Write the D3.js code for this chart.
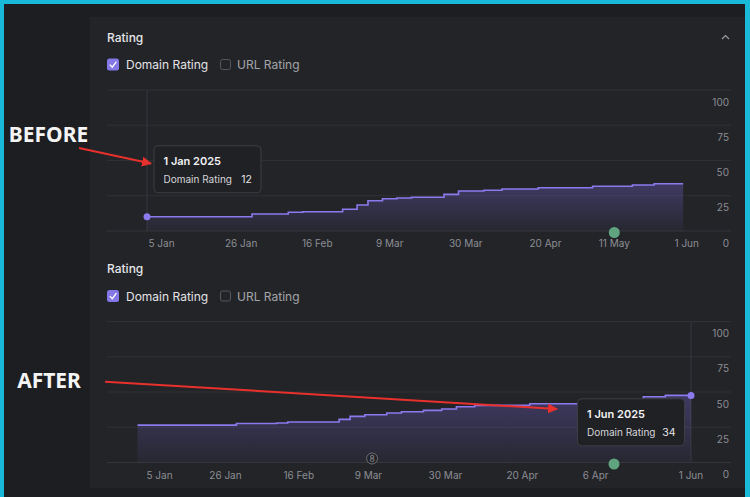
<!DOCTYPE html>
<html><head><meta charset="utf-8">
<script src="https://cdn.jsdelivr.net/npm/d3@7"></script>
<style>
html,body{margin:0;padding:0;background:#1d1e21;overflow:hidden}
svg{display:block;font-family:Inter,"Noto Sans",sans-serif}
</style>
</head><body>
<svg id="c" width="750" height="497"></svg>
<script>
// ---------- DATA ----------
const beforeDates  = ["2025-01-01","2025-01-30","2025-02-09","2025-02-13","2025-02-24","2025-02-28","2025-03-03","2025-03-07","2025-03-11","2025-03-15","2025-03-24","2025-03-28","2025-04-04","2025-04-09","2025-04-19","2025-05-04","2025-05-15","2025-05-21","2025-05-29"];
const beforeValues = [10.1, 12.1, 13.3, 13.7, 15.4, 18.4, 21.5, 22.9, 23.4, 23.9, 26.0, 28.4, 28.9, 29.8, 30.7, 31.7, 32.6, 33.5, 33.5];

const afterDates  = ["2025-01-01","2025-01-28","2025-02-08","2025-02-11","2025-02-25","2025-02-28","2025-03-04","2025-03-10","2025-03-14","2025-03-20","2025-03-25","2025-03-29","2025-04-03","2025-04-18","2025-05-08","2025-05-19","2025-05-25","2025-06-01"];
const afterValues = [26.5, 27.7, 28.0, 28.7, 30.6, 32.7, 33.9, 35.1, 36.0, 37.0, 37.9, 39.5, 40.5, 41.7, 43.6, 46.6, 47.6, 47.6];

const yTickValues = [0, 25, 50, 75, 100];

const beforeTickDates  = ["2025-01-05","2025-01-27","2025-02-17","2025-03-09","2025-03-30","2025-04-21","2025-05-10","2025-05-30"];
const beforeTickLabels = ["5 Jan","26 Jan","16 Feb","9 Mar","30 Mar","20 Apr","11 May","1 Jun"];
const afterTickDates   = ["2025-01-07","2025-01-25","2025-02-14","2025-03-05","2025-03-26","2025-04-16","2025-05-06","2025-06-01"];
const afterTickLabels  = ["5 Jan","26 Jan","16 Feb","9 Mar","30 Mar","20 Apr","6 Apr","1 Jun"];

const tooltipTitles = ["1 Jan 2025", "1 Jun 2025"];
const tooltipSeries = ["Domain Rating", "Domain Rating"];
const tooltipValues = [12, 34];

const seriesLabels = ["Domain Rating", "URL Rating"];
const panelTitle = "Rating";
const beforeAnnotationDates = ["2025-05-10"];
const afterAnnotationDates  = ["2025-05-11"];
const afterCountMarkerDates = ["2025-03-06"];
const afterCountMarkerLabels = ["8"];
const stageLabels = ["BEFORE", "AFTER"];

// ---------- DRAW ----------
const parse = d3.timeParse("%Y-%m-%d");
const svg = d3.select("#c");

svg.append("rect").attr("x",0).attr("y",0).attr("width",750).attr("height",497).attr("fill","#1d1e21");
svg.append("rect").attr("x",90).attr("y",17).attr("width",655).attr("height",471).attr("fill","#232428");
svg.append("rect").attr("x",0).attr("y",0).attr("width",4).attr("height",497).attr("fill","#19b9d9");
svg.append("rect").attr("x",0).attr("y",0).attr("width",750).attr("height",4).attr("fill","#19b9d9");
svg.append("rect").attr("x",745).attr("y",0).attr("width",5).attr("height",497).attr("fill","#19b9d9");

const defs = svg.append("defs");
defs.append("marker").attr("id","arrow").attr("viewBox","0 0 10 10")
  .attr("refX",9).attr("refY",5).attr("markerWidth",5).attr("markerHeight",5)
  .attr("orient","auto-start-reverse").attr("markerUnits","strokeWidth")
  .append("path").attr("d","M0,0 L10,5 L0,10 z").attr("fill","#e8302c");

const charts = [
  {dy:0, xr:[147,694], dates:beforeDates, values:beforeValues, ticks:beforeTickDates, labels:beforeTickLabels,
   cursor:"first", tipSide:"right", idx:0, ann:beforeAnnotationDates, counts:[], countLabels:[], chevron:true},
  {dy:231.5, xr:[137.5,691], dates:afterDates, values:afterValues, ticks:afterTickDates, labels:afterTickLabels,
   cursor:"last", tipSide:"left", idx:1, ann:afterAnnotationDates, counts:afterCountMarkerDates, countLabels:afterCountMarkerLabels, chevron:false}
];

charts.forEach(c => {
  const g = svg.append("g").attr("transform",`translate(0,${c.dy})`);
  const x = d3.scaleTime().domain([parse("2025-01-01"), parse("2025-06-01")]).range(c.xr);
  const y = d3.scaleLinear().domain([0,100]).range([231,90]);
  const data = c.dates.map((d,i)=>({date:parse(d), value:c.values[i]}));

  g.append("text").attr("x",107).attr("y",41.5).attr("fill","#e6e6e9").attr("font-size",12).attr("font-weight",500).text(panelTitle);
  if (c.chevron) {
    g.append("path").attr("d","M722,39 L725.5,35.5 L729,39").attr("fill","none").attr("stroke","#9a9ba0").attr("stroke-width",1.2);
  }
  g.append("rect").attr("x",107).attr("y",58.5).attr("width",12).attr("height",12).attr("rx",2.5).attr("fill","#8577e6");
  g.append("path").attr("d","M109.8,64.6 L112.3,67.2 L116.4,61.6").attr("fill","none").attr("stroke","#fff").attr("stroke-width",1.3);
  g.append("text").attr("x",126).attr("y",69).attr("fill","#e2e2e5").attr("font-size",12).text(seriesLabels[0]);
  g.append("rect").attr("x",220.5).attr("y",59.5).attr("width",10).attr("height",10).attr("rx",2).attr("fill","none").attr("stroke","#55575d").attr("stroke-width",1);
  g.append("text").attr("x",237).attr("y",69).attr("fill","#a3a4a9").attr("font-size",12).text(seriesLabels[1]);

  g.append("g").selectAll("line").data(yTickValues).join("line")
    .attr("x1",107).attr("x2",731).attr("y1",d=>y(d)).attr("y2",d=>y(d))
    .attr("stroke",d=>d===0?"#34353a":"#2f3035").attr("stroke-width",1);
  g.append("g").selectAll("text").data(yTickValues).join("text")
    .attr("x",729).attr("y",d=>y(d)+15.5).attr("text-anchor","end")
    .attr("fill","#8c8e94").attr("font-size",10).text(d=>d);

  g.append("g").selectAll("text").data(c.ticks).join("text")
    .attr("x",d=>x(parse(d))).attr("y",247).attr("text-anchor","middle")
    .attr("fill","#8c8e94").attr("font-size",10).text((d,i)=>c.labels[i]);

  const cur = c.cursor==="first" ? data[0] : data[data.length-1];
  g.append("line").attr("x1",x(cur.date)).attr("x2",x(cur.date)).attr("y1",y(100)).attr("y2",y(0))
    .attr("stroke","#36373c").attr("stroke-width",1);

  const gid = "grad"+c.idx;
  const gr = defs.append("linearGradient").attr("id",gid).attr("gradientUnits","userSpaceOnUse")
    .attr("x1",0).attr("x2",0).attr("y1",y(d3.max(c.values))).attr("y2",y(0));
  gr.append("stop").attr("offset",0).attr("stop-color","rgb(124,104,222)").attr("stop-opacity",0.32);
  gr.append("stop").attr("offset",1).attr("stop-color","rgb(124,104,222)").attr("stop-opacity",0.05);

  const area = d3.area().curve(d3.curveStepAfter).x(d=>x(d.date)).y0(y(0)).y1(d=>y(d.value));
  const line = d3.line().curve(d3.curveStepAfter).x(d=>x(d.date)).y(d=>y(d.value));
  g.append("path").datum(data).attr("d",area).attr("fill",`url(#${gid})`);
  g.append("path").datum(data).attr("d",line).attr("fill","none").attr("stroke","#8b79ee").attr("stroke-width",1.6);

  g.append("g").selectAll("circle").data(c.ann).join("circle")
    .attr("cx",d=>x(parse(d))).attr("cy",y(0)+1.5).attr("r",5.5).attr("fill","#5fa47f");
  c.counts.forEach((d,i)=>{
    g.append("circle").attr("cx",x(parse(d))).attr("cy",y(0)-4).attr("r",5.5)
      .attr("fill","#232428").attr("stroke","#6d6f75").attr("stroke-width",1);
    g.append("text").attr("x",x(parse(d))).attr("y",y(0)-0.8).attr("text-anchor","middle")
      .attr("fill","#8c8e94").attr("font-size",8.5).text(c.countLabels[i]);
  });

  const tw = 107, th = 47;
  const tx = c.tipSide==="right" ? x(cur.date)+6.5 : x(cur.date)-7-tw;
  const ty = c.tipSide==="right" ? 145.3 : 398.3 - c.dy;
  const tip = g.append("g").attr("transform",`translate(${tx},${ty})`);
  tip.append("rect").attr("x",0.5).attr("y",0.5).attr("width",tw).attr("height",th).attr("rx",4)
    .attr("fill","#202124").attr("stroke","#3d3e43").attr("stroke-width",1);
  tip.append("text").attr("x",10).attr("y",19.5).attr("fill","#f2f2f4").attr("font-size",11).attr("font-weight",600).text(tooltipTitles[c.idx]);
  tip.append("text").attr("x",10).attr("y",37.5).attr("fill","#d6d6da").attr("font-size",10).text(tooltipSeries[c.idx]);
  tip.append("text").attr("x",tw-8.5).attr("y",37.5).attr("text-anchor","end").attr("fill","#e6e6e9").attr("font-size",10.5).text(tooltipValues[c.idx]);

  g.append("circle").attr("cx",x(cur.date)).attr("cy",y(cur.value)).attr("r",3.5).attr("fill","#8b79ee");
});

svg.append("text").attr("x",48.5).attr("y",141.5).attr("text-anchor","middle").attr("fill","#f4f4f4")
  .attr("font-family","'Noto Sans',sans-serif").attr("font-weight",700).attr("font-size",21).text(stageLabels[0]);
svg.append("text").attr("x",49).attr("y",387.5).attr("text-anchor","middle").attr("fill","#f4f4f4")
  .attr("font-family","'Noto Sans',sans-serif").attr("font-weight",700).attr("font-size",21).text(stageLabels[1]);

svg.append("line").attr("x1",79).attr("y1",148).attr("x2",151).attr("y2",163.5)
  .attr("stroke","#e8302c").attr("stroke-width",2).attr("marker-end","url(#arrow)");
svg.append("line").attr("x1",105).attr("y1",381.7).attr("x2",557).attr("y2",409)
  .attr("stroke","#e8302c").attr("stroke-width",2).attr("marker-end","url(#arrow)");
</script>
</body></html>
